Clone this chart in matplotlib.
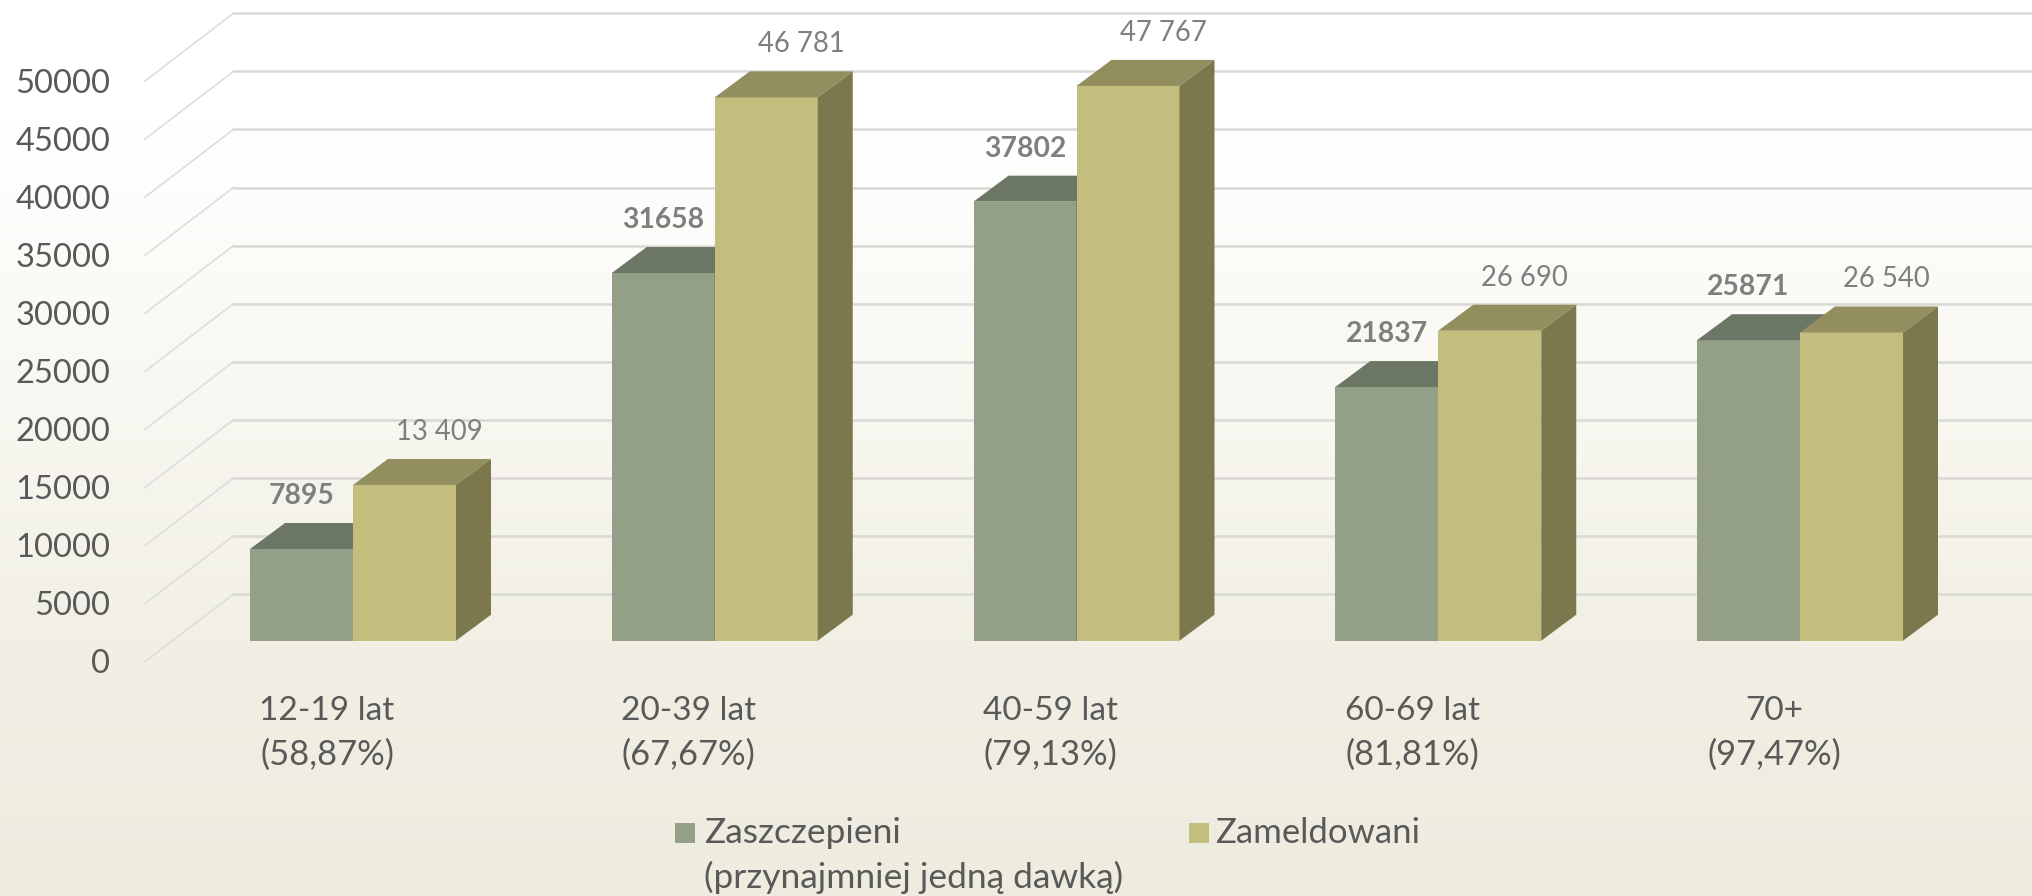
import numpy as np
import matplotlib
matplotlib.use('Agg')
import matplotlib.pyplot as plt
from matplotlib.colors import LinearSegmentedColormap
from matplotlib.patches import Polygon, Rectangle
from matplotlib.transforms import Affine2D

# Data
categories = ['12-19 lat\n(58,87%)', '20-39 lat\n(67,67%)', '40-59 lat\n(79,13%)',
              '60-69 lat\n(81,81%)', '70+\n(97,47%)']
zaszczepieni = [7895, 31658, 37802, 21837, 25871]
zameldowani = [13409, 46781, 47767, 26690, 26540]
labels_zameldowani = ['13 409', '46 781', '47 767', '26 690', '26 540']
y_ticks = [0, 5000, 10000, 15000, 20000, 25000, 30000, 35000, 40000, 45000, 50000]

plt.rcParams['font.family'] = ['Lato', 'DejaVu Sans']

W, H = 2033, 896
fig = plt.figure(figsize=(W / 100, H / 100), dpi=100)
ax = fig.add_axes([0, 0, 1, 1])
ax.set_axis_off()

# pixel geometry of the fake 3D chart
px_per_val = 58.07 / 5000
base_y = 640.7
group_px = 361.75
first_mid = 353
bar_px = 103
depth_x, depth_y = 35, 26
px = Affine2D().scale(1, -1).translate(0, H)  # top-left pixel coordinates


def fx(p):
    return (p - first_mid) / group_px


def dv(p):
    return p / px_per_val


xlim = (fx(0), fx(W))
ylim = (dv(base_y - H), dv(base_y))

# background gradient
bg = LinearSegmentedColormap.from_list('bg', [(0, '#ffffff'), (0.14, '#ffffff'), (0.45, '#f8f7f1'),
                                              (0.75, '#f1efe3'), (1, '#eeecdf')])
ax.imshow(np.linspace(0, 1, 256).reshape(-1, 1), cmap=bg, aspect='auto',
          extent=(xlim[0], xlim[1], ylim[0], ylim[1]), origin='upper', zorder=0)

# walls and gridlines
wall_left, wall_back = fx(145), fx(233.5)
for v in y_ticks:
    ax.plot([wall_left, wall_back], [v - dv(21), v + dv(46.7)], color='#dddddb', lw=1.2, zorder=1)
    ax.plot([wall_back, xlim[1]], [v + dv(46.7), v + dv(46.7)], color='#d9d9d6', lw=1.8, zorder=1)
    ax.text(110.5, 661.7 - v * px_per_val + 11.5, str(v), transform=px,
            ha='right', va='baseline', fontsize=23.5, color='#595959')

x = np.arange(len(categories))
w = bar_px / group_px
dx, dy = depth_x / group_px, dv(depth_y)


def bars(left, values, front, top, side, z):
    ax.bar(left, values, width=w, align='edge', color=front, zorder=z, linewidth=0)
    for l, v in zip(left, values):
        ax.add_patch(Polygon([(l, v), (l + dx, v + dy), (l + w + dx, v + dy), (l + w, v)],
                             closed=True, fc=top, ec='none', zorder=z))
        ax.add_patch(Polygon([(l + w, 0), (l + w + dx, dy), (l + w + dx, v + dy), (l + w, v)],
                             closed=True, fc=side, ec='none', zorder=z))


bars(x - w, zaszczepieni, '#939f86', '#6c7664', '#5f6858', 2)
bars(x, zameldowani, '#c3bd7e', '#938e5e', '#7c784e', 3)

# data labels, 45 px above the front edge of each bar
for i in x:
    ax.annotate(str(zaszczepieni[i]), (i - w / 2, zaszczepieni[i]), xytext=(0, 45), textcoords='offset pixels',
                ha='center', va='baseline', fontsize=20.3, fontweight='bold', color='#7f7f7f', zorder=5)
    ax.annotate(labels_zameldowani[i], (i + w / 2 + dx, zameldowani[i]), xytext=(0, 45), textcoords='offset pixels',
                ha='center', va='baseline', fontsize=19.8, color='#7f7f7f', zorder=5)

# category labels
for i, c in zip(x, categories):
    line1, line2 = c.split('\n')
    cx = first_mid + i * group_px - 26
    ax.text(cx, 719.5, line1, transform=px, ha='center', va='baseline', fontsize=24, color='#595959')
    ax.text(cx, 765, line2, transform=px, ha='center', va='baseline', fontsize=24.8, color='#595959')

# legend
for sx, col in [(675, '#939f86'), (1189, '#c3bd7e')]:
    ax.add_patch(Rectangle((sx, 823), 20, 20, transform=px, fc=col, ec='none', zorder=5))
ax.text(704, 843, 'Zaszczepieni', transform=px, va='baseline', fontsize=25.5, color='#595959')
ax.text(704, 888, '(przynajmniej jedną dawką)', transform=px, va='baseline', fontsize=25.5, color='#595959')
ax.text(1215, 843, 'Zameldowani', transform=px, va='baseline', fontsize=25, color='#595959')

ax.set_xlim(xlim)
ax.set_ylim(ylim)
fig.savefig('out.png', dpi=100)
